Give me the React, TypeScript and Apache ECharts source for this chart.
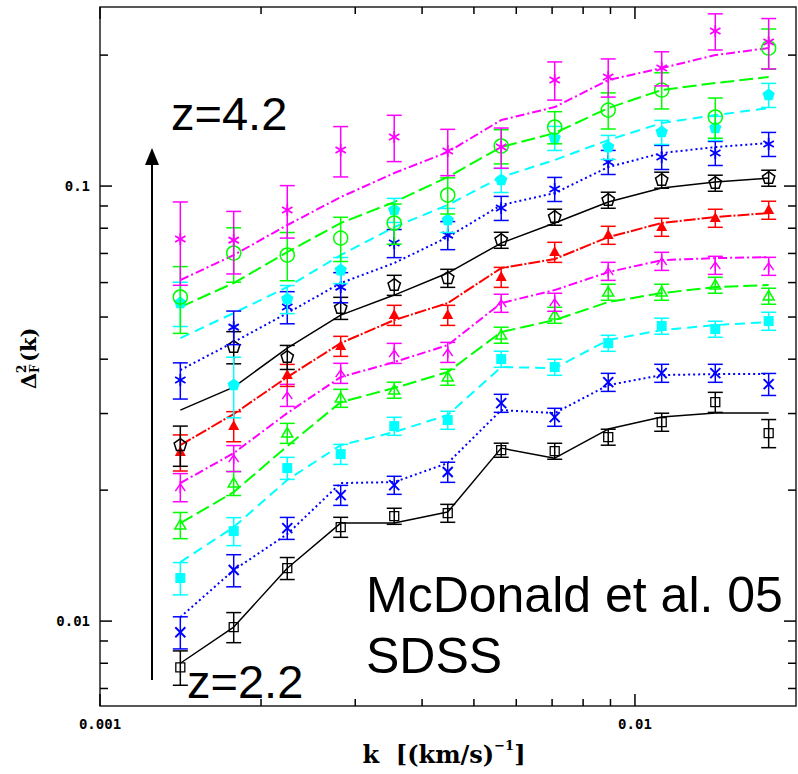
import React, { useEffect, useRef } from "react";
import * as echarts from "echarts";

// ---- axis ranges & ticks ----
const X_MIN = 0.001;
const X_MAX = 0.02;
const Y_MIN = 0.00638;
const Y_MAX = 0.258;
const X_MAJOR = [0.001, 0.01];
const X_MAJOR_LABELS = ["0.001", "0.01"];
const X_MINOR = [0.002, 0.003, 0.004, 0.005, 0.006, 0.007, 0.008, 0.009];
const Y_MAJOR = [0.01, 0.1];
const Y_MAJOR_LABELS = ["0.01", "0.1"];
const Y_MINOR = [0.007, 0.008, 0.009, 0.02, 0.03, 0.04, 0.05, 0.06, 0.07, 0.08, 0.09, 0.2];

// ---- k bins ----
const K_BINS = [0.001413, 0.001778, 0.002239, 0.002818, 0.003548, 0.004467, 0.005623, 0.007079, 0.008913, 0.01122, 0.01413, 0.01778];

const REDSHIFTS = ["2.2", "2.4", "2.6", "2.8", "3.0", "3.2", "3.4", "3.6", "3.8", "4.0", "4.2"];

// ---- measured P(k) (points), errors, and model curves ----
const P22 = [0.00783, 0.00969, 0.01323, 0.01645, 0.01743, 0.01771, 0.02472, 0.02459, 0.02649, 0.02868, 0.03187, 0.02705];
const E22 = [0.00071, 0.00077, 0.00077, 0.00087, 0.00074, 0.00084, 0.00092, 0.00104, 0.00112, 0.00137, 0.00169, 0.00201];
const M22 = [0.008, 0.00969, 0.01323, 0.0168, 0.0168, 0.01781, 0.02498, 0.02369, 0.02763, 0.02944, 0.03007, 0.03007];

const P24 = [0.00943, 0.0131, 0.01636, 0.01948, 0.02054, 0.02201, 0.0317, 0.02944, 0.03542, 0.03716, 0.03716, 0.03505];
const E24 = [0.0008, 0.00111, 0.00095, 0.00103, 0.00098, 0.00117, 0.00151, 0.0014, 0.00169, 0.00177, 0.00177, 0.00204];
const M24 = [0.01021, 0.0131, 0.01585, 0.02076, 0.02087, 0.02308, 0.03055, 0.03007, 0.03487, 0.03677, 0.03697, 0.03697];

const P26 = [0.01256, 0.0161, 0.02248, 0.0242, 0.02807, 0.02898, 0.04002, 0.03836, 0.04355, 0.04767, 0.04691, 0.04894];
const E26 = [0.00107, 0.00119, 0.00131, 0.00128, 0.00134, 0.00138, 0.0017, 0.00163, 0.00185, 0.00202, 0.00199, 0.00233];
const M26 = [0.01366, 0.01645, 0.0211, 0.02538, 0.02719, 0.02976, 0.03836, 0.03816, 0.04426, 0.04666, 0.04791, 0.04868];

const P28 = [0.01662, 0.02076, 0.02705, 0.03255, 0.03397, 0.03638, 0.04545, 0.05051, 0.05705, 0.05705, 0.05921, 0.05586];
const E28 = [0.00115, 0.00132, 0.00143, 0.00155, 0.00144, 0.00154, 0.00193, 0.00214, 0.00242, 0.00242, 0.00251, 0.00237];
const M28 = [0.0168, 0.01979, 0.02525, 0.03187, 0.03433, 0.03736, 0.04618, 0.0492, 0.05412, 0.05675, 0.05858, 0.05921];

const P30 = [0.02032, 0.02369, 0.03308, 0.03716, 0.0413, 0.04152, 0.05383, 0.05412, 0.06375, 0.06721, 0.0658, 0.06546];
const E30 = [0.00151, 0.00163, 0.00193, 0.00197, 0.00219, 0.0022, 0.00257, 0.00258, 0.00304, 0.00321, 0.00314, 0.00312];
const M30 = [0.02076, 0.02433, 0.03007, 0.03638, 0.03938, 0.0431, 0.05383, 0.05766, 0.06341, 0.06757, 0.06829, 0.06865];

const P32 = [0.02446, 0.02807, 0.03677, 0.04287, 0.05051, 0.05051, 0.06176, 0.07051, 0.07714, 0.08049, 0.08442, 0.08808];
const E32 = [0.00233, 0.00223, 0.00214, 0.00227, 0.00268, 0.00268, 0.00327, 0.00374, 0.00368, 0.00384, 0.00403, 0.0042];
const M32 = [0.02538, 0.02992, 0.03638, 0.04355, 0.0492, 0.05383, 0.06478, 0.06796, 0.07632, 0.08222, 0.08487, 0.08669];

const P34 = [0.02538, 0.04265, 0.04045, 0.05243, 0.05921, 0.06143, 0.07512, 0.08487, 0.09286, 0.10323, 0.1016, 0.10433];
const E34 = [0.00269, 0.00362, 0.00257, 0.00306, 0.00314, 0.00293, 0.00318, 0.0036, 0.00394, 0.00438, 0.00431, 0.00442];
const M34 = [0.03055, 0.03451, 0.04242, 0.05051, 0.05616, 0.0631, 0.07396, 0.08222, 0.09188, 0.09895, 0.10214, 0.10433];

const P36 = [0.03581, 0.0474, 0.05271, 0.05858, 0.07396, 0.07714, 0.08902, 0.09842, 0.11354, 0.11659, 0.11908, 0.12489];
const E36 = [0.00342, 0.0042, 0.00447, 0.00466, 0.00549, 0.00572, 0.00566, 0.00626, 0.00722, 0.00742, 0.00757, 0.00794];
const M36 = [0.03776, 0.04378, 0.05105, 0.05984, 0.06653, 0.07632, 0.09044, 0.09636, 0.11057, 0.11908, 0.12292, 0.12555];

const P38 = [0.05383, 0.03487, 0.05499, 0.06409, 0.08808, 0.08353, 0.10323, 0.12893, 0.12292, 0.1331, 0.13595, 0.1619];
const E38 = [0.00628, 0.00554, 0.00408, 0.00442, 0.0056, 0.00531, 0.00657, 0.0082, 0.00782, 0.00847, 0.00865, 0.0103];
const M38 = [0.04473, 0.05105, 0.05858, 0.0694, 0.08049, 0.09044, 0.10488, 0.11477, 0.12757, 0.13956, 0.14559, 0.15109];

const P40 = [0.05557, 0.07015, 0.0694, 0.07592, 0.08222, 0.09535, 0.12359, 0.13665, 0.1495, 0.16626, 0.14408, 0.20762];
const E40 = [0.00972, 0.01003, 0.00881, 0.00885, 0.00872, 0.0091, 0.01114, 0.01159, 0.01426, 0.01586, 0.01527, 0.02201];
const M40 = [0.05271, 0.05984, 0.07051, 0.08222, 0.09188, 0.10488, 0.12292, 0.1324, 0.15109, 0.16626, 0.17252, 0.17806];

const P42 = [0.07553, 0.07512, 0.08808, 0.12098, 0.12963, 0.12034, 0.12292, 0.17527, 0.17806, 0.18673, 0.22715, 0.21429];
const E42 = [0.01639, 0.01232, 0.01215, 0.01603, 0.01581, 0.01468, 0.01303, 0.01765, 0.01793, 0.01682, 0.02167, 0.02839];
const M42 = [0.0608, 0.0694, 0.08135, 0.09434, 0.10713, 0.11972, 0.14183, 0.1519, 0.17527, 0.18673, 0.20004, 0.20762];

const POINTS = [P22, P24, P26, P28, P30, P32, P34, P36, P38, P40, P42];
const ERRORS = [E22, E24, E26, E28, E30, E32, E34, E36, E38, E40, E42];
const MODELS = [M22, M24, M26, M28, M30, M32, M34, M36, M38, M40, M42];

// ---- styles (one per redshift) ----
const STYLES: { color: string; marker: string; dash: any; width: number }[] = [
  { color: "#000000", marker: "square", dash: "solid", width: 1.5 },
  { color: "#0000ff", marker: "cross", dash: [2, 3], width: 2 },
  { color: "#00ffff", marker: "fsquare", dash: [10, 6], width: 2 },
  { color: "#00ff00", marker: "triangle", dash: [14, 5], width: 2 },
  { color: "#ff00ff", marker: "arrow", dash: [9, 3, 2, 3], width: 2 },
  { color: "#ff0000", marker: "ftriangle", dash: [12, 2, 2, 2], width: 2 },
  { color: "#000000", marker: "pentagon", dash: "solid", width: 1.5 },
  { color: "#0000ff", marker: "asterisk", dash: [2, 3], width: 2 },
  { color: "#00ffff", marker: "fpentagon", dash: [10, 6], width: 2 },
  { color: "#00ff00", marker: "circle", dash: [14, 5], width: 2 },
  { color: "#ff00ff", marker: "asterisk", dash: [9, 3, 2, 3], width: 2 },
];

function polyPts(x: number, y: number, r: number, n: number) {
  const pts: number[][] = [];
  for (let j = 0; j < n; j++) {
    const a = -Math.PI / 2 + (j * 2 * Math.PI) / n;
    pts.push([x + r * Math.cos(a), y + r * Math.sin(a)]);
  }
  return pts;
}

function ln(x1: number, y1: number, x2: number, y2: number, color: string, w = 1.5) {
  return { type: "line", shape: { x1, y1, x2, y2 }, style: { stroke: color, lineWidth: w } };
}

function markerShapes(kind: string, x: number, y: number, color: string): any[] {
  const open = { stroke: color, lineWidth: 1.5, fill: "none" };
  switch (kind) {
    case "square":
      return [{ type: "rect", shape: { x: x - 4.5, y: y - 4.5, width: 9, height: 9 }, style: { ...open, lineWidth: 1.3 } }];
    case "fsquare":
      return [{ type: "rect", shape: { x: x - 5, y: y - 5, width: 10, height: 10 }, style: { fill: color } }];
    case "triangle":
      return [{ type: "polygon", shape: { points: [[x, y - 5.5], [x + 5.5, y + 4], [x - 5.5, y + 4]] }, style: open }];
    case "ftriangle":
      return [{ type: "polygon", shape: { points: [[x, y - 6], [x + 5.5, y + 4], [x - 5.5, y + 4]] }, style: { fill: color } }];
    case "circle":
      return [{ type: "circle", shape: { cx: x, cy: y, r: 7 }, style: open }];
    case "pentagon":
      return [{ type: "polygon", shape: { points: polyPts(x, y, 6.5, 5) }, style: open }];
    case "fpentagon":
      return [{ type: "polygon", shape: { points: polyPts(x, y, 6.5, 5) }, style: { fill: color } }];
    case "cross":
      return [ln(x - 5, y - 5, x + 5, y + 5, color, 2), ln(x - 5, y + 5, x + 5, y - 5, color, 2)];
    case "asterisk":
      return [
        ln(x, y - 6, x, y + 6, color, 1.8),
        ln(x - 5.2, y - 3, x + 5.2, y + 3, color, 1.8),
        ln(x - 5.2, y + 3, x + 5.2, y - 3, color, 1.8),
      ];
    case "arrow":
      return [
        { type: "polyline", shape: { points: [[x - 5, y + 4], [x, y - 3], [x + 5, y + 4]] }, style: open },
        ln(x, y - 6, x, y + 6, color, 1.5),
      ];
  }
  return [];
}

function makeErrRenderer(color: string, marker: string) {
  return (params: any, api: any) => {
    const k = api.value(0);
    const v = api.value(1);
    const e = api.value(2);
    const c = api.coord([k, v]);
    const top = api.coord([k, v + e]);
    const bot = api.coord([k, v - e]);
    const cw = 7.5;
    return {
      type: "group",
      children: [
        ln(c[0], top[1], c[0], bot[1], color, 1.5),
        ln(c[0] - cw, top[1], c[0] + cw, top[1], color, 1.5),
        ln(c[0] - cw, bot[1], c[0] + cw, bot[1], color, 1.5),
        ...markerShapes(marker, c[0], c[1], color),
      ],
    };
  };
}

const TICK_FONT = 'bold 14px "DejaVu Sans Mono"';

function xTickRenderer(params: any, api: any) {
  const cs = params.coordSys;
  const v = api.value(0);
  const major = api.value(2) === 1;
  const x = api.coord([v, Y_MIN])[0];
  const len = major ? 12 : 7;
  const yb = cs.y + cs.height;
  const children: any[] = [ln(x, yb, x, yb - len, "#000", 1.5), ln(x, cs.y, x, cs.y + len, "#000", 1.5)];
  if (major) {
    const idx = X_MAJOR.indexOf(v);
    children.push({
      type: "text",
      style: {
        text: X_MAJOR_LABELS[idx], x, y: yb + 11, font: TICK_FONT, fill: "#000",
        textAlign: "center", textVerticalAlign: "top", align: "center", verticalAlign: "top",
      },
    });
  }
  return { type: "group", children };
}

function yTickRenderer(params: any, api: any) {
  const cs = params.coordSys;
  const v = api.value(1);
  const major = api.value(2) === 1;
  const y = api.coord([X_MIN, v])[1];
  const len = major ? 12 : 8;
  const xr = cs.x + cs.width;
  const children: any[] = [ln(cs.x, y, cs.x + len, y, "#000", 1.5), ln(xr, y, xr - len, y, "#000", 1.5)];
  if (major) {
    const idx = Y_MAJOR.indexOf(v);
    children.push({
      type: "text",
      style: {
        text: Y_MAJOR_LABELS[idx], x: cs.x - 10, y, font: TICK_FONT, fill: "#000",
        textAlign: "right", textVerticalAlign: "middle", align: "right", verticalAlign: "middle",
      },
    });
  }
  return { type: "group", children };
}

export default function App() {
  const ref = useRef<HTMLDivElement>(null);
  useEffect(() => {
    if (!ref.current) return;
    const chart = echarts.init(ref.current, null, { renderer: "svg" });
    const series: any[] = [];
    REDSHIFTS.forEach((z, si) => {
      const st = STYLES[si];
      series.push({
        name: "model z=" + z,
        type: "line",
        data: K_BINS.map((k, i) => [k, MODELS[si][i]]),
        symbol: "none",
        z: 2,
        lineStyle: { color: st.color, width: st.width, type: st.dash },
        silent: true,
      });
      series.push({
        name: "z=" + z,
        type: "custom",
        data: K_BINS.map((k, i) => [k, POINTS[si][i], ERRORS[si][i]]),
        encode: { x: 0, y: 1 },
        renderItem: makeErrRenderer(st.color, st.marker),
        clip: false,
        z: 3,
        silent: true,
      });
    });
    series.push({
      type: "custom",
      name: "xticks",
      data: [...X_MAJOR.map((v) => [v, Y_MIN, 1]), ...X_MINOR.map((v) => [v, Y_MIN, 0])],
      encode: { x: 0, y: 1 },
      renderItem: xTickRenderer,
      clip: false,
      z: 5,
      silent: true,
    });
    series.push({
      type: "custom",
      name: "yticks",
      data: [...Y_MAJOR.map((v) => [X_MIN, v, 1]), ...Y_MINOR.map((v) => [X_MIN, v, 0])],
      encode: { x: 0, y: 1 },
      renderItem: yTickRenderer,
      clip: false,
      z: 5,
      silent: true,
    });

    const annFont = '"Liberation Sans", Arial, sans-serif';
    const serif = '"DejaVu Serif", serif';
    chart.setOption({
      animation: false,
      backgroundColor: "#ffffff",
      grid: { left: 100, right: 2, top: 7, bottom: 68, show: true, borderColor: "#222", borderWidth: 1.5, backgroundColor: "transparent" },
      xAxis: {
        type: "log", logBase: 10, min: X_MIN, max: X_MAX,
        axisLine: { show: false }, axisTick: { show: false }, axisLabel: { show: false }, splitLine: { show: false },
      },
      yAxis: {
        type: "log", logBase: 10, min: Y_MIN, max: Y_MAX,
        axisLine: { show: false }, axisTick: { show: false }, axisLabel: { show: false }, splitLine: { show: false },
      },
      series,
      graphic: [
        // redshift arrow
        { type: "line", shape: { x1: 152, y1: 680, x2: 152, y2: 162 }, style: { stroke: "#000", lineWidth: 2 }, z: 10 },
        { type: "polygon", shape: { points: [[152, 148], [145, 165], [159, 165]] }, style: { fill: "#000" }, z: 10 },
        {
          type: "text", x: 171, y: 113, z: 10,
          style: { text: "z=4.2", font: "47px " + annFont, fill: "#000", textAlign: "left", textVerticalAlign: "middle" },
        },
        {
          type: "text", x: 187, y: 681, z: 10,
          style: { text: "z=2.2", font: "47px " + annFont, fill: "#000", textAlign: "left", textVerticalAlign: "middle" },
        },
        {
          type: "text", x: 366, y: 625, z: 10,
          style: {
            text: "McDonald et al. 05\nSDSS", font: "50px " + annFont, lineHeight: 61, fill: "#000",
            textAlign: "left", textVerticalAlign: "middle",
          },
        },
        // x-axis title
        {
          type: "text", x: 444, y: 754, z: 10,
          style: {
            text: "{a|k  [(km/s)}{s|−1}{a|]}",
            textAlign: "center", textVerticalAlign: "middle",
            rich: {
              a: { fontSize: 24, fontWeight: "bold", fontFamily: serif, fill: "#000", color: "#000", lineHeight: 30 },
              s: { fontSize: 13, fontWeight: "bold", fontFamily: serif, fill: "#000", color: "#000", verticalAlign: "top", lineHeight: 30, padding: [0, 0, 10, 0] },
            },
          },
        },
        // y-axis title (rotated)
        {
          type: "group", x: 28, y: 389, rotation: Math.PI / 2, z: 10,
          children: [
            { type: "text", x: 0, y: 0, style: { text: "Δ", font: 'bold 21px ' + serif, fill: "#000", textAlign: "left", textVerticalAlign: "middle" } },
            { type: "text", x: 16, y: -6, style: { text: "2", font: 'bold 12px ' + serif, fill: "#000", textAlign: "left", textVerticalAlign: "middle" } },
            { type: "text", x: 16, y: 7, style: { text: "F", font: 'bold 12px ' + serif, fill: "#000", textAlign: "left", textVerticalAlign: "middle" } },
            { type: "text", x: 27, y: 0, style: { text: "(k)", font: 'bold 21px ' + serif, fill: "#000", textAlign: "left", textVerticalAlign: "middle" } },
          ],
        },
      ],
    });
    return () => chart.dispose();
  }, []);
  return (
    <div
      ref={ref}
      style={{ position: "fixed", left: 0, top: 0, width: 798, height: 774, background: "#fff" }}
    />
  );
}
